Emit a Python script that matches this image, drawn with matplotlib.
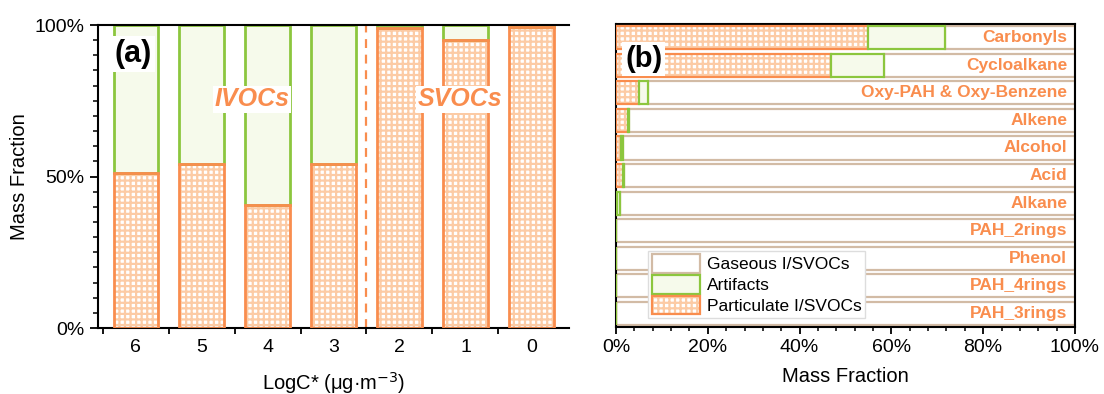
import matplotlib
matplotlib.use("Agg")
import matplotlib.pyplot as plt
import numpy as np
from matplotlib.ticker import MultipleLocator, FixedLocator, PercentFormatter
from matplotlib.patches import Patch

plt.rcParams['font.family'] = ['Liberation Sans', 'DejaVu Sans']
plt.rcParams['hatch.linewidth'] = 1.6

# panel (a): volatility bins
logc = ['6', '5', '4', '3', '2', '1', '0']
part_a = [51, 54, 40.5, 54, 99, 95, 99.5]
art_a = [49, 46, 59.5, 46, 1, 5, 0.5]

# panel (b): compound classes
classes = ['Carbonyls', 'Cycloalkane', 'Oxy-PAH & Oxy-Benzene', 'Alkene', 'Alcohol',
           'Acid', 'Alkane', 'PAH_2rings', 'Phenol', 'PAH_4rings', 'PAH_3rings']
part_b = [55.0, 46.8, 5.0, 2.5, 1.0, 1.5, 0.3, 0, 0, 0, 0]
art_b = [16.6, 11.6, 1.9, 0.4, 0.6, 0.3, 0.5, 0, 0, 0, 0]

orange = '#F98D4E'
pale = '#FCCBA5'
green = '#8CC63E'
lightgreen = '#F6FAEB'
tan = '#D2BBA5'

fig = plt.figure(figsize=(11.04, 3.94), dpi=100)
ax1 = fig.add_axes([0.0888, 0.1675, 0.4266, 0.769])
ax2 = fig.add_axes([0.558, 0.170, 0.4157, 0.769])

# ---- (a)
x = np.arange(len(logc))
w = 0.67
ax1.bar(x, part_a, w, color='white', edgecolor=pale, hatch='+++', linewidth=0, zorder=2)
ax1.bar(x, part_a, w, fill=False, edgecolor=orange, linewidth=2, zorder=3)
ax1.bar(x, art_a, w, bottom=part_a, color=lightgreen, edgecolor=green, linewidth=2, zorder=2)
ax1.axvline(3.5, color=orange, ls=(0, (4, 3)), lw=1.6, zorder=1)

ax1.set_xlim(-0.57, 6.57)
ax1.set_ylim(0, 100)
ax1.set_xticks(x)
ax1.set_xticklabels(logc)
ax1.xaxis.set_minor_locator(FixedLocator(np.arange(-0.5, 6.0, 1)))
ax1.tick_params(axis='x', which='major', length=0, labelsize=14, pad=8)
ax1.tick_params(axis='x', which='minor', length=4, width=1.3, direction='out')
ax1.set_yticks([0, 50, 100])
ax1.yaxis.set_minor_locator(MultipleLocator(5))
ax1.yaxis.set_major_formatter(PercentFormatter(decimals=0))
ax1.tick_params(axis='y', which='major', length=6, width=1.3, labelsize=14, direction='out')
ax1.tick_params(axis='y', which='minor', length=3.5, width=1.1, direction='out')
ax1.spines['right'].set_visible(False)
for s in ['left', 'bottom', 'top']:
    ax1.spines[s].set_linewidth(1.5)
ax1.set_ylabel('Mass Fraction', fontsize=14.5, labelpad=4)
ax1.set_xlabel('LogC* (μg·m$^{-3}$)', fontsize=14.5, labelpad=10)

ax1.text(0.036, 0.905, '(a)', transform=ax1.transAxes, fontsize=22, fontweight='bold',
         ha='left', va='center', bbox=dict(facecolor='white', edgecolor='none', pad=2), zorder=5)
ax1.text(1.77, 75.5, 'IVOCs', color=orange, fontsize=18, fontweight='bold', style='italic',
         ha='center', va='center', bbox=dict(facecolor='white', edgecolor='none', pad=1), zorder=5)
ax1.text(4.92, 75.5, 'SVOCs', color=orange, fontsize=18, fontweight='bold', style='italic',
         ha='center', va='center', bbox=dict(facecolor='white', edgecolor='none', pad=1), zorder=5)

# ---- (b)
y = np.arange(len(classes))
h = 0.84
part_b = np.array(part_b)
art_b = np.array(art_b)
gas_b = 100 - part_b - art_b
ax2.barh(y, gas_b, h, left=part_b + art_b, color='white', edgecolor=tan, linewidth=1.6, zorder=2)
ax2.barh(y, part_b, h, color='white', edgecolor=pale, hatch='+++', linewidth=0, zorder=2)
ax2.barh(y, part_b, h, fill=False, edgecolor=orange, linewidth=1.6, zorder=3)
ax2.barh(y, art_b, h, left=part_b, color=lightgreen, edgecolor=green, linewidth=1.6, zorder=3)

for yi, name in zip(y, classes):
    ax2.text(98.3, yi, name, color=orange, fontsize=12.5, fontweight='bold',
             ha='right', va='center', zorder=4)

ax2.set_xlim(0, 100)
ax2.set_ylim(10.5, -0.5)
ax2.set_yticks([])
ax2.set_xticks(np.arange(0, 101, 20))
ax2.xaxis.set_minor_locator(MultipleLocator(4))
ax2.xaxis.set_major_formatter(PercentFormatter(decimals=0))
ax2.tick_params(axis='x', which='major', length=5, width=1.3, labelsize=14, direction='out')
ax2.tick_params(axis='x', which='minor', length=3, width=1.1, direction='out')
for s in ax2.spines.values():
    s.set_linewidth(1.5)
ax2.set_xlabel('Mass Fraction', fontsize=14.5, labelpad=8)
ax2.text(0.02, 0.885, '(b)', transform=ax2.transAxes, fontsize=21, fontweight='bold',
         ha='left', va='center', bbox=dict(facecolor='white', edgecolor='none', pad=2), zorder=5)

h_gas = Patch(facecolor='white', edgecolor=tan, linewidth=1.6)
h_art = Patch(facecolor=lightgreen, edgecolor=green, linewidth=1.6)
h_part = (Patch(facecolor='white', edgecolor=pale, hatch='+++', linewidth=0),
          Patch(fill=False, edgecolor=orange, linewidth=1.6))
leg = ax2.legend([h_gas, h_art, h_part], ['Gaseous I/SVOCs', 'Artifacts', 'Particulate I/SVOCs'],
                 loc='lower left', bbox_to_anchor=(0.07, 0.03), fontsize=12.5, frameon=True,
                 fancybox=False, edgecolor='#DDDDDD', framealpha=1, handlelength=2.8,
                 handleheight=1.3, handletextpad=0.4, labelspacing=0.1, borderpad=0.2,
                 borderaxespad=0)
leg.set_zorder(6)

fig.savefig('out.png', dpi=100)
